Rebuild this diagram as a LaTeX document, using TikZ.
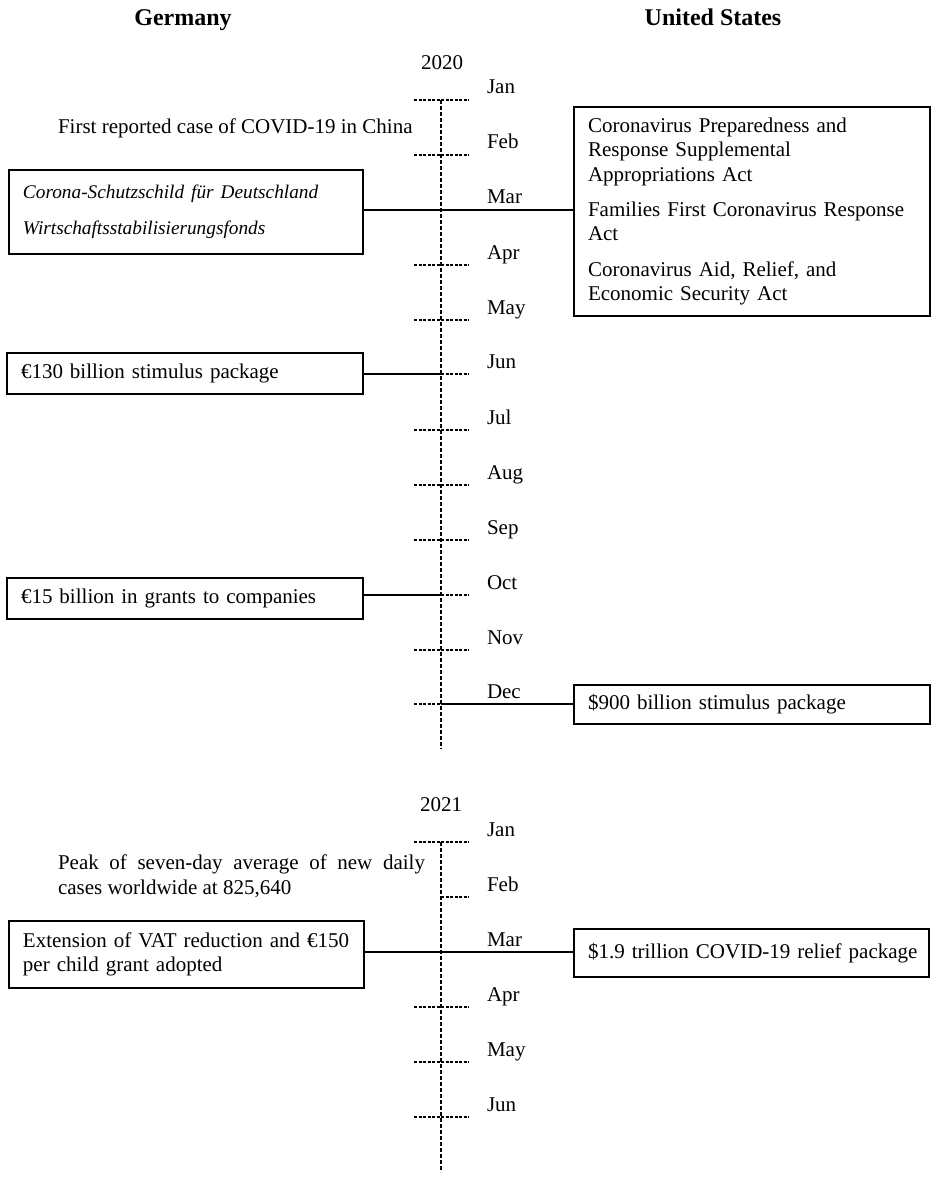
\documentclass[tikz,border=0pt]{standalone}
\usepackage{fontspec}
\setmainfont{Liberation Serif}
\begin{document}
\begin{tikzpicture}[x=1pt,y=-1pt,
  every node/.style={font=\fontsize{21}{24.5}\selectfont, inner sep=0pt, outer sep=0pt},
  box/.style={draw, line width=1.4pt, anchor=north west, inner xsep=14pt, inner ysep=0pt, align=left},
  tickmark/.style={line width=1.3pt, dash pattern=on 3pt off 1.5pt},
  axisline/.style={line width=1.3pt, dash pattern=on 4pt off 2pt},
  conn/.style={line width=1.4pt},
  month/.style={anchor=base west},
  hdr/.style={font=\fontsize{24}{28}\selectfont\bfseries, anchor=base},
  yearlbl/.style={anchor=base}]
\useasboundingbox[fill=white] (0,0) rectangle (935,1177);

% headers
\node[hdr] (hde) at (183,26) {Germany};
\node[hdr] (hus) at (713,26) {United States};

% ---------------- 2020 ----------------
\node[yearlbl] (y20) at (442,70) {2020};
\foreach \m/\lab/\yy in {1/Jan/100,2/Feb/155,3/Mar/210,4/Apr/265,5/May/320,6/Jun/374,7/Jul/430,8/Aug/485,9/Sep/540,10/Oct/595,11/Nov/650,12/Dec/704}{
  \coordinate (t20-\m) at (441,\yy);
  \node[month] (m20-\m) at (487,\yy-6) {\lab};
}
\coordinate (a20top) at (441,100);
\coordinate (a20bot) at (441,749);
\draw[axisline] (a20top) -- (a20bot);
\foreach \m in {1,2,4,5,6,7,8,9,10,11,12}{
  \draw[tickmark] ([xshift=-27pt]t20-\m) -- ([xshift=28pt]t20-\m);
}

\node[anchor=base west] (china) at (58,134) {First reported case of COVID-19 in China};

\node[box, minimum width=354pt, minimum height=84pt, text width=326pt] (gm) at (9,170)
  {\fontsize{19.3}{24.5}\selectfont\itshape Corona-Schutzschild für Deutschland\\[12pt]\itshape Wirtschaftsstabilisierungsfonds};
\node[box, minimum width=356pt, minimum height=209pt, text width=328pt] (us1) at (574,107)
  {\mbox{Coronavirus Preparedness and}\\ Response Supplemental\\ Appropriations Act\\[10.5pt]
   \mbox{Families First Coronavirus Response}\\ Act\\[11pt]
   Coronavirus Aid, Relief, and\\ Economic Security Act};
\node[box, minimum width=356pt, minimum height=41pt, text width=328pt] (g130) at (7,353)
  {€130 billion stimulus package};
\node[box, minimum width=356pt, minimum height=41pt, text width=328pt] (g15) at (7,578)
  {€15 billion in grants to companies};
\node[box, minimum width=356pt, minimum height=39pt, text width=328pt] (us900) at (574,685)
  {\$900 billion stimulus package};

\draw[conn] (gm.east |- t20-3) -- (us1.west |- t20-3);
\draw[conn] (g130.east |- t20-6) -- (t20-6);
\draw[conn] (g15.east |- t20-10) -- (t20-10);
\draw[conn] (t20-12) -- (us900.west |- t20-12);

% ---------------- 2021 ----------------
\node[yearlbl] (y21) at (441,811) {2021};
\foreach \m/\lab/\yy in {1/Jan/842,2/Feb/897,3/Mar/952,4/Apr/1007,5/May/1062,6/Jun/1117}{
  \coordinate (t21-\m) at (441,\yy);
  \node[month] (m21-\m) at (487,\yy-6) {\lab};
}
\coordinate (a21top) at (441,842);
\coordinate (a21bot) at (441,1172);
\draw[axisline] (a21top) -- (a21bot);
\foreach \m in {1,4,5,6}{
  \draw[tickmark] ([xshift=-27pt]t21-\m) -- ([xshift=28pt]t21-\m);
}
\draw[tickmark] (t21-2) -- ([xshift=28pt]t21-2);

\node[anchor=north west, text width=367pt, align=justify] (peak) at (58,855)
  {Peak of seven-day average of new daily\linebreak cases worldwide at 825,640};

\node[box, minimum width=355pt, minimum height=67pt, text width=327pt] (g21) at (9,921)
  {\mbox{Extension of VAT reduction and €150}\\ per child grant adopted};
\node[box, minimum width=355pt, minimum height=48pt, text width=327pt] (us21) at (574,929)
  {\mbox{\$1.9 trillion COVID-19 relief package}};

\draw[conn] (g21.east |- t21-3) -- (us21.west |- t21-3);
\end{tikzpicture}
\end{document}
